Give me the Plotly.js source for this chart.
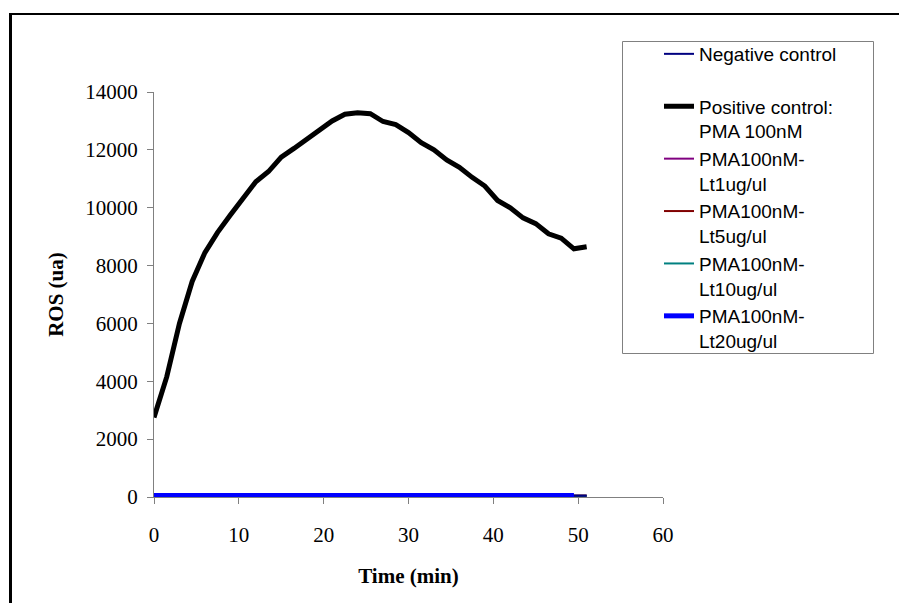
<!DOCTYPE html>
<html>
<head>
<meta charset="utf-8">
<script src="https://cdn.plot.ly/plotly-3.0.1.min.js"></script>
<style>body{margin:0;padding:0;background:#fff}#chart{width:899px;height:603px}</style>
</head>
<body>
<div id="chart"></div>
<script>
const time = [0,1.5,3,4.5,6,7.5,9,10.5,12,13.5,15,16.5,18,19.5,21,22.5,24,25.5,27,28.5,30,31.5,33,34.5,36,37.5,39,40.5,42,43.5,45,46.5,48,49.5,51];
const timeShort = time.slice(0, 34);
const negativeControl = [45,48,46,50,47,49,51,48,46,50,52,49,47,48,50,51,49,47,46,48,50,49,48,47,49,50,48,46,47,49,48,47,46,45,44];
const positiveControl = [2750,4150,6000,7450,8450,9150,9750,10350,10900,11250,11750,12050,12350,12650,13000,13230,13280,13250,12980,12870,12600,12250,12000,11650,11400,11050,10750,10250,10000,9650,9450,9100,8950,8580,8650];
const lt1 = [52,55,50,54,53,56,52,51,54,55,53,50,52,54,56,53,51,52,55,54,53,50,52,51,53,54,52,51,50,53,52,51,50,49,48];
const lt5 = [40,42,44,41,43,45,42,40,43,44,41,42,45,43,40,42,44,41,43,42,40,41,43,44,42,41,40,42,43,41,40,42,41,40,39];
const lt10 = [48,47,50,49,46,48,51,49,47,50,48,46,49,51,48,47,50,49,46,48,47,49,50,48,47,46,48,49,47,46,48,47,46,45,44];
const lt20 = [50,52,51,53,50,49,52,54,51,50,53,52,50,51,53,52,50,49,51,52,53,50,51,52,50,49,51,53,52,50,51,52,50,49];

const names = ["Negative control<br>\u00a0", "Positive control:<br>PMA 100nM", "PMA100nM-<br>Lt1ug/ul", "PMA100nM-<br>Lt5ug/ul", "PMA100nM-<br>Lt10ug/ul", "PMA100nM-<br>Lt20ug/ul"];
const colors = ["#000080", "#000000", "#800080", "#800000", "#008080", "#0000ff"];
const widths = [2, 5, 2, 2, 2, 5];
const ys = [negativeControl, positiveControl, lt1, lt5, lt10, lt20];
const xs = [time, time, time, time, time, timeShort];
const drawOrder = [2, 3, 4, 0, 5, 1];

const traces = drawOrder.map(i => ({
  x: xs[i], y: ys[i], name: names[i], type: 'scatter', mode: 'lines',
  line: {color: colors[i], width: widths[i]}, legendrank: i + 1
}));

const px = v => (v - 154) / 509;
const py = v => (497 - v) / 405;
const serif = 'Liberation Serif, Times New Roman, serif';

const layout = {
  width: 899, height: 603,
  margin: {l: 154, r: 236, t: 92, b: 106},
  paper_bgcolor: '#ffffff', plot_bgcolor: '#ffffff',
  showlegend: true,
  font: {family: serif, color: '#000', size: 21},
  xaxis: {
    range: [0, 60], tickvals: [0,10,20,30,40,50,60], ticktext: ['0','10','20','30','40','50','60'],
    showgrid: false, zeroline: false, showline: true, linecolor: '#808080', linewidth: 1,
    ticks: 'outside', ticklen: 6, tickcolor: '#808080', ticklabelstandoff: 13,
    tickfont: {family: serif, size: 21, color: '#000'},
    title: {text: '<b>Time (min)</b>', font: {family: serif, size: 21, color: '#000'}, standoff: 22}
  },
  yaxis: {
    range: [0, 14000], tickvals: [0,2000,4000,6000,8000,10000,12000,14000],
    ticktext: ['0','2000','4000','6000','8000','10000','12000','14000'],
    showgrid: false, zeroline: false, showline: true, linecolor: '#808080', linewidth: 1,
    ticks: 'outside', ticklen: 6, tickcolor: '#808080', ticklabelstandoff: 5,
    tickfont: {family: serif, size: 21, color: '#000'},
    title: {text: '<b>ROS (ua)</b>', font: {family: serif, size: 21, color: '#000'}, standoff: 15}
  },
  legend: {
    x: px(659), y: py(35), xanchor: 'left', yanchor: 'top',
    bgcolor: 'rgba(0,0,0,0)', borderwidth: 0, maxheight: 600,
    font: {family: 'Liberation Sans, Arial, sans-serif', size: 19, color: '#000'},
    valign: 'top', traceorder: 'normal', itemwidth: 30, tracegroupgap: 0
  },
  shapes: [
    {type: 'line', xref: 'paper', yref: 'paper', x0: px(10.5), x1: px(899), y0: py(14), y1: py(14), line: {color: '#000', width: 2}},
    {type: 'line', xref: 'paper', yref: 'paper', x0: px(10.5), x1: px(10.5), y0: py(13), y1: py(603), line: {color: '#000', width: 3}},
    {type: 'rect', xref: 'paper', yref: 'paper', x0: px(622.5), x1: px(873.5), y0: py(41.5), y1: py(353.5), line: {color: '#808080', width: 1}, fillcolor: 'rgba(0,0,0,0)', layer: 'above'}
  ]
};

Plotly.newPlot('chart', traces, layout, {displayModeBar: false, staticPlot: true});
</script>
</body>
</html>
